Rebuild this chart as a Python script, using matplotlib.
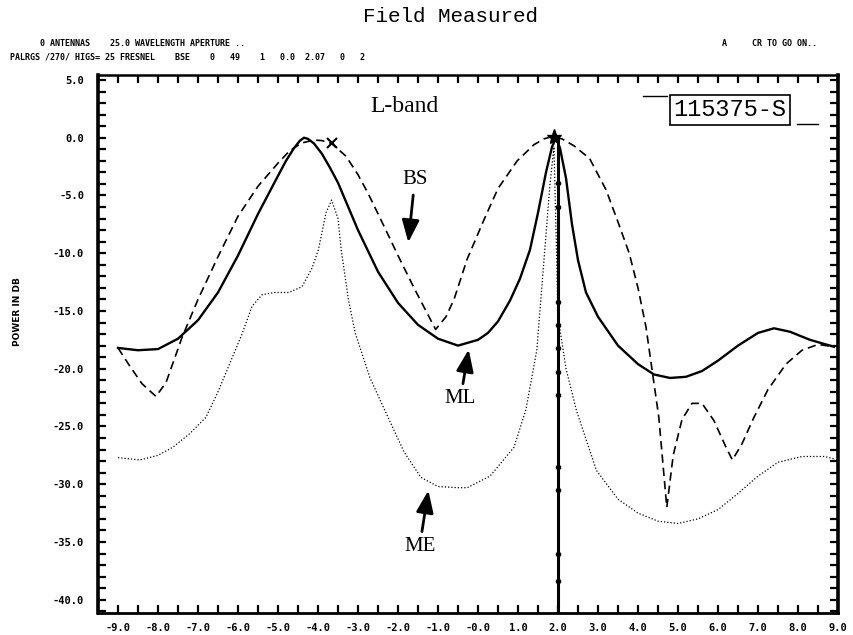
import matplotlib
matplotlib.use("Agg")
import matplotlib.pyplot as plt
import numpy as np

# ---------------- data ----------------
x_ticks = [-9, -8, -7, -6, -5, -4, -3, -2, -1, 0, 1, 2, 3, 4, 5, 6, 7, 8, 9]
x_tick_labels = ["-9.0", "-8.0", "-7.0", "-6.0", "-5.0", "-4.0", "-3.0", "-2.0", "-1.0",
                 "-0.0", "1.0", "2.0", "3.0", "4.0", "5.0", "6.0", "7.0", "8.0", "9.0"]
y_ticks = [5, 0, -5, -10, -15, -20, -25, -30, -35, -40]
y_tick_labels = ["5.0", "0.0", "-5.0", "-10.0", "-15.0", "-20.0", "-25.0", "-30.0", "-35.0", "-40.0"]

ml_x = [-9.0, -8.5, -8.0, -7.5, -7.0, -6.5, -6.0, -5.5, -5.0, -4.8, -4.6, -4.45, -4.35, -4.25,
        -4.1, -3.9, -3.7, -3.5, -3.0, -2.5, -2.0, -1.5, -1.0, -0.5, 0.0, 0.25, 0.5, 0.8, 1.05,
        1.3, 1.5, 1.7, 1.85, 1.95, 2.05, 2.2, 2.35, 2.5, 2.7, 3.0, 3.5, 4.0, 4.4, 4.8, 5.2,
        5.6, 6.0, 6.5, 7.0, 7.4, 7.8, 8.3, 8.9]
ml_y = [-18.2, -18.4, -18.3, -17.4, -15.8, -13.4, -10.2, -6.6, -3.3, -2.0, -0.9, -0.25, 0.0,
        -0.1, -0.5, -1.4, -2.6, -3.9, -8.0, -11.6, -14.3, -16.2, -17.4, -18.0, -17.5, -16.9,
        -15.9, -14.1, -12.2, -9.7, -6.5, -3.0, -0.8, 0.0, -0.9, -3.5, -7.5, -10.6, -13.4,
        -15.5, -18.0, -19.6, -20.5, -20.8, -20.7, -20.2, -19.3, -18.0, -16.9, -16.5, -16.8,
        -17.5, -18.1]

bs_x = [-9.0, -8.7, -8.4, -8.05, -7.8, -7.4, -7.0, -6.5, -6.0, -5.5, -5.0, -4.7, -4.4, -4.1,
        -3.9, -3.66, -3.3, -3.0, -2.75, -2.4, -2.0, -1.6, -1.33, -1.06, -0.8, -0.6, -0.27,
        0.15, 0.5, 0.98, 1.4, 1.65, 1.85, 2.1, 2.4, 2.79, 3.2, 3.5, 3.78, 4.0, 4.2, 4.52,
        4.72, 4.88, 5.1, 5.35, 5.6, 5.9, 6.2, 6.36, 6.6, 6.9, 7.25, 7.7, 8.1, 8.5, 8.9]
bs_y = [-18.2, -19.8, -21.3, -22.4, -21.2, -17.3, -14.0, -10.3, -6.8, -4.2, -2.2, -1.1, -0.45,
        -0.2, -0.25, -0.5, -1.6, -3.2, -4.8, -7.3, -10.2, -13.0, -14.8, -16.6, -15.5, -14.0,
        -10.5, -7.1, -4.4, -2.0, -0.6, -0.1, 0.1, -0.1, -0.7, -1.8, -4.5, -7.3, -10.0, -13.0,
        -16.4, -24.2, -32.0, -27.5, -24.4, -23.0, -23.0, -24.5, -26.8, -27.9, -26.5, -24.2,
        -21.8, -19.6, -18.4, -17.9, -18.1]

me_x = [-9.0, -8.45, -8.0, -7.63, -7.2, -6.8, -6.5, -6.2, -5.9, -5.65, -5.4, -5.1, -4.73,
        -4.4, -4.15, -3.99, -3.8, -3.66, -3.5, -3.42, -3.24, -3.07, -2.7, -2.25, -1.85, -1.43,
        -1.0, -0.5, -0.27, 0.3, 0.9, 1.2, 1.47, 1.67, 1.8, 1.9, 2.0, 2.2, 2.46, 2.96, 3.5,
        4.0, 4.5, 5.0, 5.5, 6.0, 6.5, 7.0, 7.5, 8.1, 8.67, 8.9]
me_y = [-27.7, -27.9, -27.5, -26.8, -25.6, -24.2, -22.0, -19.5, -17.0, -14.6, -13.6, -13.4,
        -13.4, -12.9, -11.3, -9.7, -6.5, -5.4, -7.0, -9.7, -14.0, -16.9, -20.8, -24.2, -27.2,
        -29.4, -30.2, -30.3, -30.3, -29.3, -26.8, -23.5, -18.4, -9.7, -4.0, -0.8, -15.5,
        -20.0, -23.6, -28.8, -31.3, -32.5, -33.2, -33.4, -33.0, -32.2, -30.8, -29.3, -28.1,
        -27.6, -27.6, -27.8]

vline_x = [2.0, 2.0]
vline_y = [0.0, -41.2]
vdot_y = [-3.9, -6.0, -14.2, -16.2, -18.2, -20.3, -22.3, -28.5, -30.5, -36.0, -38.4]

bs_peak_mark = (-3.66, -0.5)
main_peak_mark = (1.9, 0.1)

# ---------------- figure ----------------
fig = plt.figure(figsize=(8.54, 6.35), dpi=100)
ax = fig.add_axes([98 / 854, 1 - 613 / 635, (838 - 98) / 854, (613 - 75) / 635])
ax.set_xlim(-9.5, 8.88)
ax.set_ylim(-41.15, 5.43)

ax.plot(ml_x, ml_y, color="black", lw=1.7, solid_joinstyle="round")
ax.plot(bs_x, bs_y, color="black", lw=1.2, dashes=(5, 3))
ax.plot(me_x, me_y, color="black", lw=0.9, dashes=(1, 1.6))
ax.plot(vline_x, vline_y, color="black", lw=2.2)
ax.plot([2.0] * len(vdot_y), vdot_y, ls="none", marker="o", ms=3, color="black")
ax.plot(*bs_peak_mark, marker="x", ms=7, mew=1.5, color="black")
ax.plot(*main_peak_mark, marker="*", ms=11, color="black")

# ticks
ax.set_xticks(x_ticks)
ax.set_xticklabels(x_tick_labels)
ax.set_xticks(np.arange(-9.5, 9.01, 0.5), minor=True)
ax.set_yticks(y_ticks)
ax.set_yticklabels(y_tick_labels)
ax.set_yticks(np.arange(-41, 5.1, 1.0), minor=True)
for which in ("major", "minor"):
    ax.tick_params(axis="both", which=which, direction="in", length=6, width=1.6,
                   top=True, right=True, color="black")
ax.tick_params(axis="x", which="major", pad=7)
ax.tick_params(axis="y", which="major", pad=10)
for lab in ax.get_xticklabels() + ax.get_yticklabels():
    lab.set_fontfamily("DejaVu Sans Mono")
    lab.set_fontweight("bold")
    lab.set_fontsize(7.5)
for side, w in (("left", 2.6), ("bottom", 2.0), ("right", 2.6), ("top", 1.8)):
    ax.spines[side].set_linewidth(w)

fig.text(18 / 854, 1 - 312 / 635, "POWER IN DB", fontfamily="DejaVu Sans", fontweight="bold",
         fontsize=6.5, rotation=90, ha="center", va="center")

# annotations
serif = "Liberation Serif"
ax.text(-1.83, 2.66, "L-band", fontfamily=serif, fontsize=17, ha="center", va="center")
ax.text(6.3, 2.4, "115375-S", fontfamily="Liberation Mono", fontsize=17, ha="center",
        va="center", bbox=dict(boxstyle="square,pad=0.15", fc="white", ec="black", lw=1.2))
ax.plot([(643 - 98) / 740, (667 - 98) / 740], [1 - (96 - 75) / 538] * 2,
        transform=ax.transAxes, color="black", lw=1.0)
ax.plot([(797 - 98) / 740, (818 - 98) / 740], [1 - (124 - 75) / 538] * 2,
        transform=ax.transAxes, color="black", lw=1.0)

arrow = dict(arrowstyle="-|>,head_length=0.9,head_width=0.35", color="black", lw=2.0)
ax.annotate("BS", xy=(-1.75, -9.3), xytext=(-1.58, -3.66), fontfamily=serif, fontsize=15,
            ha="center", va="center", arrowprops=arrow)
ax.annotate("ML", xy=(-0.22, -18.1), xytext=(-0.44, -22.6), fontfamily=serif, fontsize=15,
            ha="center", va="center", arrowprops=arrow)
ax.annotate("ME", xy=(-1.23, -30.3), xytext=(-1.46, -35.4), fontfamily=serif, fontsize=15,
            ha="center", va="center", arrowprops=arrow)

# header texts
fig.text(0.527, 1 - 16 / 635, "Field Measured", fontfamily="Liberation Mono", fontsize=15,
         ha="center", va="center")
mono = dict(fontfamily="DejaVu Sans Mono", fontweight="bold", fontsize=6, va="center")
fig.text(40 / 854, 1 - 44 / 635, "0 ANTENNAS    25.0 WAVELENGTH APERTURE ..", **mono)
fig.text(10 / 854, 1 - 57 / 635,
         "PALRGS /270/ HIGS= 25 FRESNEL    BSE    0   49    1   0.0  2.07   0   2", **mono)
fig.text(722 / 854, 1 - 44 / 635, "A     CR TO GO ON..", **mono)

fig.savefig("out.png", dpi=100)
